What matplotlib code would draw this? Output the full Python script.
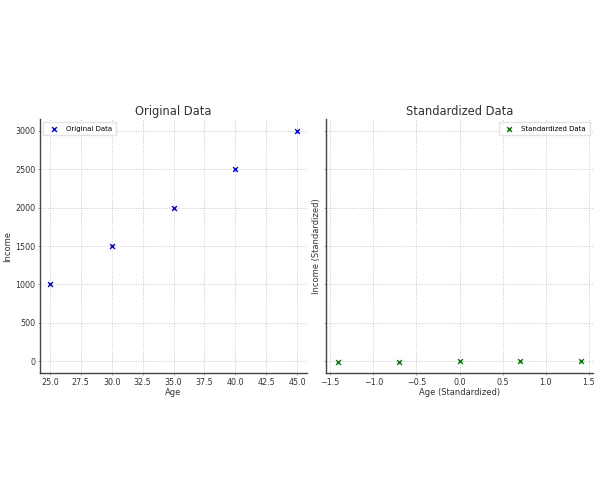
import matplotlib
matplotlib.use("Agg")
import matplotlib.pyplot as plt
import numpy as np

age = [25, 30, 35, 40, 45]
income = [1000, 1500, 2000, 2500, 3000]
age_std = [-1.414, -0.707, 0.0, 0.707, 1.414]
income_std = [-1.414, -0.707, 0.0, 0.707, 1.414]

plt.rcParams['font.family'] = 'DejaVu Sans'
txt = '#333333'
fig = plt.figure(figsize=(6, 5), dpi=100)
ax1 = fig.add_axes([40/600, 1-373/500, 267/600, 254/500])
ax2 = fig.add_axes([326/600, 1-373/500, 267/600, 254/500], sharey=ax1)

for ax in (ax1, ax2):
    for s in ('top', 'right'):
        ax.spines[s].set_visible(False)
    for s in ('left', 'bottom'):
        ax.spines[s].set_color('#444444')
        ax.spines[s].set_linewidth(1.0)
    ax.grid(True, linestyle=':', color='#c8c8c8', linewidth=0.7)
    ax.set_axisbelow(True)
    ax.tick_params(labelsize=5.8, colors='#999999', labelcolor=txt, length=1.5, width=0.6, pad=2)

ax1.scatter(age, income, marker='x', color='blue', s=12, linewidths=1.0, label='Original Data')
ax1.set_title('Original Data', fontsize=8.3, color=txt, pad=3)
ax1.set_xlabel('Age', fontsize=6, color=txt, labelpad=1)
ax1.set_ylabel('Income', fontsize=6, color=txt, labelpad=2)
ax1.set_xlim(24.2, 45.8)
ax1.set_ylim(-150, 3150)
ax1.legend(loc='upper left', fontsize=5, frameon=True, edgecolor='#dddddd', fancybox=False,
           handletextpad=0.8, borderpad=0.5)

ax2.scatter(age_std, income_std, marker='x', color='green', s=12, linewidths=1.0, label='Standardized Data')
ax2.set_title('Standardized Data', fontsize=8.3, color=txt, pad=3)
ax2.set_xlabel('Age (Standardized)', fontsize=6, color=txt, labelpad=1)
ax2.set_ylabel('Income (Standardized)', fontsize=6, color=txt, labelpad=2)
ax2.set_xlim(-1.55, 1.55)
ax2.tick_params(axis='y', labelleft=False)
ax2.legend(loc='upper right', fontsize=5, frameon=True, edgecolor='#dddddd', fancybox=False,
           handletextpad=0.8, borderpad=0.5)

fig.savefig('out.png', dpi=100)
